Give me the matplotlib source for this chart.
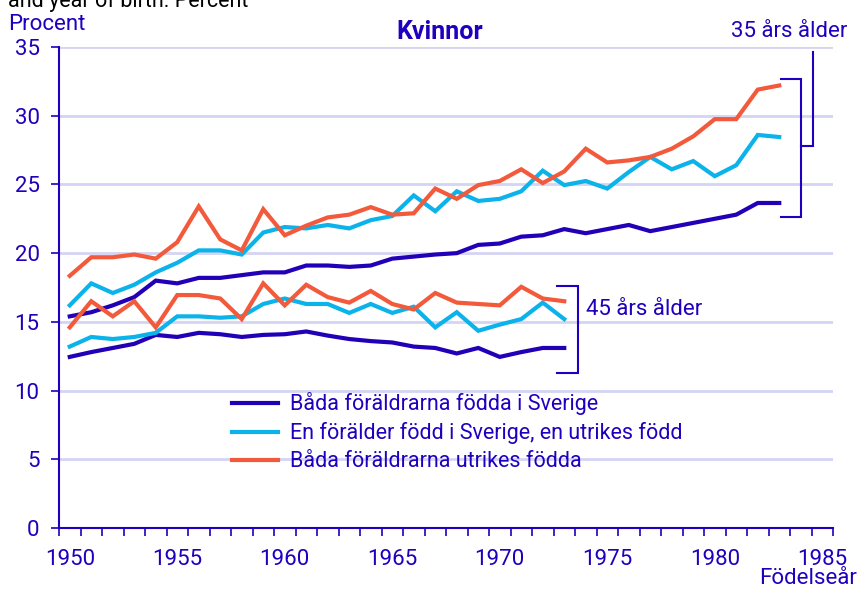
import matplotlib.pyplot as plt
from matplotlib.ticker import MultipleLocator, FixedLocator

plt.rcParams['font.family'] = ['Roboto', 'DejaVu Sans']

years_35 = list(range(1950, 1984))
years_45 = list(range(1950, 1974))

# 35 års ålder
both_swe_35 = [15.4, 15.7, 16.2, 16.8, 18.0, 17.8, 18.2, 18.2, 18.4, 18.6, 18.6, 19.1,
               19.1, 19.0, 19.1, 19.6, 19.75, 19.9, 20.0, 20.6, 20.7, 21.2, 21.3, 21.75,
               21.45, 21.75, 22.05, 21.6, 21.9, 22.2, 22.5, 22.8, 23.65, 23.65]
one_swe_35 = [16.2, 17.8, 17.1, 17.7, 18.6, 19.3, 20.2, 20.2, 19.9, 21.5, 21.9, 21.8,
              22.05, 21.8, 22.4, 22.7, 24.2, 23.05, 24.5, 23.8, 23.95, 24.5, 26.0, 24.95,
              25.25, 24.7, 25.9, 27.0, 26.1, 26.7, 25.6, 26.4, 28.6, 28.45]
both_for_35 = [18.35, 19.7, 19.7, 19.9, 19.6, 20.8, 23.4, 21.0, 20.2, 23.2, 21.3, 22.0,
               22.6, 22.8, 23.35, 22.8, 22.9, 24.7, 23.95, 24.95, 25.25, 26.1, 25.1, 25.95,
               27.6, 26.6, 26.75, 27.0, 27.6, 28.5, 29.75, 29.75, 31.9, 32.2]

# 45 års ålder
both_swe_45 = [12.45, 12.8, 13.1, 13.4, 14.05, 13.9, 14.2, 14.1, 13.9, 14.05, 14.1, 14.3,
               14.0, 13.75, 13.6, 13.5, 13.2, 13.1, 12.7, 13.1, 12.45, 12.8, 13.1, 13.1]
one_swe_45 = [13.2, 13.9, 13.75, 13.9, 14.2, 15.4, 15.4, 15.3, 15.4, 16.3, 16.7, 16.3,
              16.3, 15.65, 16.3, 15.65, 16.1, 14.6, 15.7, 14.35, 14.8, 15.2, 16.4, 15.2]
both_for_45 = [14.6, 16.5, 15.4, 16.5, 14.6, 16.95, 16.95, 16.7, 15.2, 17.8, 16.2, 17.7,
               16.8, 16.4, 17.25, 16.3, 15.9, 17.1, 16.4, 16.3, 16.2, 17.55, 16.7, 16.5]

labels = ['Båda föräldrarna födda i Sverige',
          'En förälder född i Sverige, en utrikes född',
          'Båda föräldrarna utrikes födda']

c_dark = '#2200b8'
c_light = '#0bb3ea'
c_orange = '#f25a3b'
c_text = '#1e00be'
c_grid = '#d4d4f4'
fs = 16

fig = plt.figure(figsize=(8.59, 5.89), dpi=100)
ax = fig.add_axes([59 / 859, 61 / 589, 774 / 859, 481 / 589])

lw = 3.0
ax.plot(years_35, both_swe_35, color=c_dark, lw=lw, label=labels[0], solid_joinstyle='miter')
ax.plot(years_35, one_swe_35, color=c_light, lw=lw, label=labels[1], solid_joinstyle='miter')
ax.plot(years_35, both_for_35, color=c_orange, lw=lw, label=labels[2], solid_joinstyle='miter')
ax.plot(years_45, both_swe_45, color=c_dark, lw=lw, solid_joinstyle='miter')
ax.plot(years_45, one_swe_45, color=c_light, lw=lw, solid_joinstyle='miter')
ax.plot(years_45, both_for_45, color=c_orange, lw=lw, solid_joinstyle='miter')

ax.set_xlim(1949.5, 1985.5)
ax.set_ylim(0, 35)

for v in range(5, 40, 5):
    ax.axhline(v, color=c_grid, lw=2, zorder=0)

ax.xaxis.set_major_locator(FixedLocator(range(1950, 1990, 5)))
ax.xaxis.set_minor_locator(FixedLocator([x + 0.5 for x in range(1949, 1986)]))
ax.yaxis.set_major_locator(MultipleLocator(5))
ax.tick_params(axis='x', which='major', length=0, pad=15, labelsize=fs, labelcolor=c_text)
ax.tick_params(axis='x', which='minor', length=6, width=1.2, color=c_text, direction='out')
ax.tick_params(axis='y', which='major', length=6, width=1.2, color=c_text, pad=8,
               labelsize=fs, labelcolor=c_text)

for s in ['top', 'right']:
    ax.spines[s].set_visible(False)
for s in ['left', 'bottom']:
    ax.spines[s].set_color(c_text)
    ax.spines[s].set_linewidth(1.5)

# brackets
bk = dict(color=c_text, lw=1.5, clip_on=False, solid_joinstyle='miter')
ax.plot([1983.1, 1984.0, 1984.0, 1983.1], [32.7, 32.7, 22.6, 22.6], **bk)
ax.plot([1984.0, 1984.55, 1984.55], [27.8, 27.8, 34.6], **bk)
ax.text(1986.15, 35.4, '35 års ålder', color=c_text, fontsize=fs, ha='right', va='bottom')
ax.plot([1972.65, 1973.65, 1973.65, 1972.65], [17.6, 17.6, 11.3, 11.3], **bk)
ax.text(1974.0, 15.9, '45 års ålder', color=c_text, fontsize=fs, ha='left', va='center')

leg = ax.legend(loc='upper left', bbox_to_anchor=(0.2235, 0.282), frameon=False,
                fontsize=15.5, handlelength=2.14, handletextpad=0.56, labelspacing=0.32,
                borderpad=0, borderaxespad=0)
for t in leg.get_texts():
    t.set_color(c_text)

fig.text(8 / 859, 1 - 7 / 589, 'and year of birth. Percent', color='black', fontsize=15.5,
         ha='left', va='baseline')
fig.text(8 / 859, 1 - 24 / 589, 'Procent', color=c_text, fontsize=fs, ha='left', va='center')
fig.text(440 / 859, 1 - 32 / 589, 'Kvinnor', color=c_text, fontsize=18, fontweight='bold',
         ha='center', va='center')
fig.text(857 / 859, 1 - 579 / 589, 'Födelseår', color=c_text, fontsize=fs, ha='right',
         va='center')

fig.savefig('out.png', dpi=100)
